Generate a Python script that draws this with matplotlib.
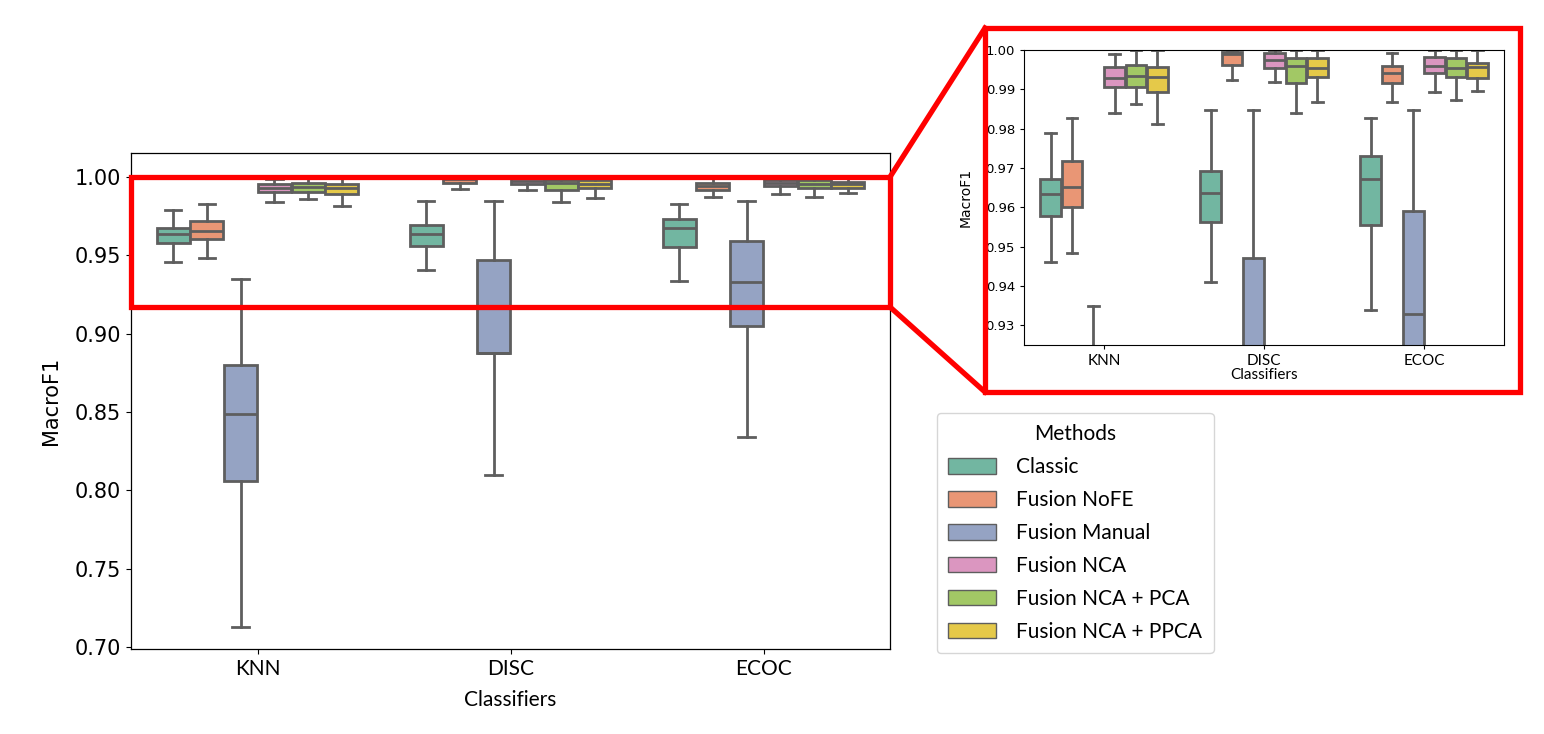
import numpy as np
import matplotlib
matplotlib.use("Agg")
import matplotlib.pyplot as plt
from matplotlib.patches import Patch, Rectangle
from matplotlib.lines import Line2D
import seaborn as sns

classifiers = ["KNN", "DISC", "ECOC"]
methods = ["Classic", "Fusion NoFE", "Fusion Manual", "Fusion NCA",
           "Fusion NCA + PCA", "Fusion NCA + PPCA"]

# box statistics per classifier, one value per method
whislo = [[0.9460, 0.9484, 0.713, 0.9841, 0.9862, 0.9812],
          [0.9409, 0.9924, 0.810, 0.9919, 0.9841, 0.9868],
          [0.9338, 0.9869, 0.834, 0.9892, 0.9874, 0.9896]]
q1 = [[0.9578, 0.9601, 0.806, 0.9907, 0.9907, 0.9894],
      [0.9562, 0.9962, 0.8876, 0.9953, 0.9917, 0.9932],
      [0.9556, 0.9915, 0.905, 0.9942, 0.9932, 0.9928]]
med = [[0.9633, 0.9652, 0.849, 0.9930, 0.9934, 0.9932],
       [0.9637, 0.9990, 0.8876, 0.9975, 0.9959, 0.9953],
       [0.9672, 0.9941, 0.9330, 0.9959, 0.9953, 0.9958]]
q3 = [[0.9672, 0.9718, 0.880, 0.9956, 0.9962, 0.9956],
      [0.9692, 0.9996, 0.947, 0.9992, 0.9979, 0.9979],
      [0.9730, 0.9959, 0.959, 0.9981, 0.9979, 0.9966]]
whishi = [[0.9788, 0.9826, 0.935, 0.9990, 1.0, 1.0],
          [0.9847, 1.0, 0.9847, 1.0, 1.0, 1.0],
          [0.9826, 0.9992, 0.9847, 1.0, 1.0, 1.0]]

colors = sns.color_palette("Set2", 6, desat=0.75)
gray = "#5e5e5e"
W, H = 1544, 734
txt_font = ["Lato", "DejaVu Sans"]


def draw_boxes(ax, lw):
    w = 0.8 / len(methods)
    for i in range(len(classifiers)):
        stats = []
        for j in range(len(methods)):
            stats.append(dict(whislo=whislo[i][j], q1=q1[i][j], med=med[i][j],
                              q3=q3[i][j], whishi=whishi[i][j], fliers=[]))
        pos = [i + (j - 2.5) * w for j in range(len(methods))]
        bp = ax.bxp(stats, positions=pos, widths=w * 0.98, patch_artist=True,
                    showfliers=False, manage_ticks=False,
                    boxprops=dict(edgecolor=gray, linewidth=lw),
                    whiskerprops=dict(color=gray, linewidth=lw),
                    capprops=dict(color=gray, linewidth=lw),
                    medianprops=dict(color=gray, linewidth=lw))
        for patch, col in zip(bp["boxes"], colors):
            patch.set_facecolor(col)
    ax.set_xlim(-0.5, 2.5)
    ax.set_xticks(range(len(classifiers)))


fig = plt.figure(figsize=(W / 100, H / 100), dpi=100)

# main axes
ax = fig.add_axes([131 / W, 1 - 649 / H, 759 / W, 496 / H])
draw_boxes(ax, 2.0)
ax.set_ylim(0.6987, 1.0153)
ax.set_yticks(np.arange(0.70, 1.001, 0.05))
ax.set_yticklabels(["%.2f" % v for v in np.arange(0.70, 1.001, 0.05)], fontsize=15)
ax.set_xticklabels(classifiers, family=txt_font, fontsize=15)
ax.set_ylabel("MacroF1", fontsize=15, labelpad=10)
ax.set_xlabel("Classifiers", family=txt_font, fontsize=15, labelpad=8)
for s in ax.spines.values():
    s.set_linewidth(0.9)

# zoomed inset
axin = fig.add_axes([1024 / W, 1 - 345 / H, 480 / W, 295 / H])
draw_boxes(axin, 2.0)
axin.set_ylim(0.925, 1.0)
axin.set_yticks(np.arange(0.93, 1.001, 0.01))
axin.set_yticklabels(["%.2f" % v for v in np.arange(0.93, 1.001, 0.01)], fontsize=9.5)
axin.set_xticklabels(classifiers, family=txt_font, fontsize=11)
axin.set_ylabel("MacroF1", fontsize=10, labelpad=9)
axin.set_xlabel("Classifiers", family=txt_font, fontsize=11, labelpad=0)
axin.tick_params(length=3)

# red zoom markers
red_lw = 3.8
zoom_lo = 0.917
ax.add_patch(Rectangle((-0.5, zoom_lo), 3.0, 1.0 - zoom_lo, fill=False,
                       edgecolor="red", linewidth=red_lw, clip_on=False, zorder=10))
fx0, fy0, fx1, fy1 = 985 / W, 1 - 392 / H, 1520 / W, 1 - 28 / H
fig.add_artist(Rectangle((fx0, fy0), fx1 - fx0, fy1 - fy0, fill=False,
                         edgecolor="red", linewidth=red_lw,
                         transform=fig.transFigure))
to_fig = fig.transFigure.inverted()
top = to_fig.transform(ax.transData.transform((2.5, 1.0)))
bot = to_fig.transform(ax.transData.transform((2.5, zoom_lo)))
fig.add_artist(Line2D([top[0], fx0], [top[1], fy1], color="red",
                      linewidth=red_lw, transform=fig.transFigure))
fig.add_artist(Line2D([bot[0], fx0], [bot[1], fy0], color="red",
                      linewidth=red_lw, transform=fig.transFigure))

# legend
handles = [Patch(facecolor=c, edgecolor=gray, linewidth=1.0) for c in colors]
fig.legend(handles, methods, title="Methods", loc="upper left",
           bbox_to_anchor=(937 / W, 1 - 413 / H), borderaxespad=0,
           prop=dict(family=txt_font, size=15),
           title_fontproperties=dict(family=txt_font, size=15),
           handlelength=2.3, handleheight=0.75, labelspacing=0.62,
           handletextpad=0.95, borderpad=0.55, fancybox=True,
           edgecolor="#cccccc")

fig.savefig("out.png", dpi=100)
